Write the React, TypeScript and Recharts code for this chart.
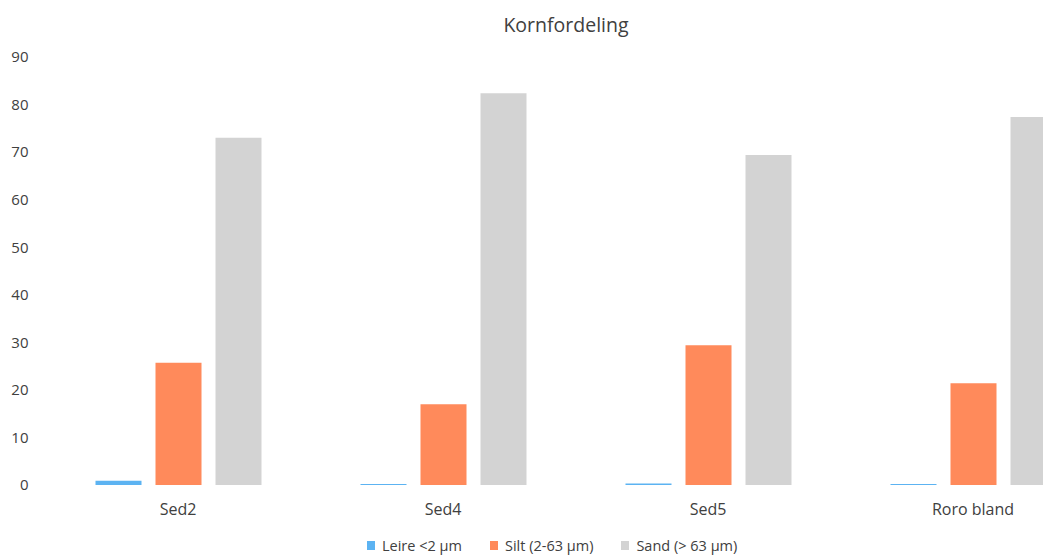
import { BarChart, Bar, XAxis, YAxis } from "recharts";

const categories = ["Sed2", "Sed4", "Sed5", "Roro bland"];
const leire = [0.9, 0.2, 0.3, 0.2];
const silt = [25.7, 17.0, 29.4, 21.4];
const sand = [73.0, 82.4, 69.4, 77.4];
const yTicks = [0, 10, 20, 30, 40, 50, 60, 70, 80, 90];

const seriesKeys = ["leire", "silt", "sand"];
const seriesNames = ["Leire <2 µm", "Silt (2-63 µm)", "Sand (> 63 µm)"];
const seriesColors = ["#5CB3F2", "#FF8A5B", "#D3D3D3"];

const data = categories.map((c, i) => ({
  name: c,
  leire: leire[i],
  silt: silt[i],
  sand: sand[i],
}));

const FONT = "'Open Sans', sans-serif";
const TEXT = "#404040";

export default function App() {
  return (
    <div
      style={{
        position: "absolute",
        left: 0,
        top: 0,
        width: 1043,
        height: 558,
        overflow: "hidden",
        background: "#fff",
      }}
    >
      <div
        style={{
          position: "absolute",
          top: 11,
          left: 366,
          width: 400,
          textAlign: "center",
          fontFamily: FONT,
          fontSize: 19.5,
          color: TEXT,
        }}
      >
        Kornfordeling
      </div>
      <BarChart
        width={1120}
        height={558}
        data={data}
        margin={{ top: 57, right: 14.5, left: 0, bottom: 43 }}
        barSize={46}
        barGap={14}
      >
        <XAxis
          dataKey="name"
          height={30}
          axisLine={false}
          tickLine={false}
          tickSize={0}
          tickMargin={19}
          tick={{ fill: TEXT, fontSize: 16, fontFamily: FONT }}
          interval={0}
        />
        <YAxis
          width={45.5}
          domain={[0, 90]}
          ticks={yTicks}
          axisLine={false}
          tickLine={false}
          tickSize={0}
          tickMargin={17}
          tick={{ fill: TEXT, fontSize: 15, fontFamily: FONT }}
        />
        {seriesKeys.map((k, i) => (
          <Bar key={k} dataKey={k} name={seriesNames[i]} fill={seriesColors[i]} isAnimationActive={false} />
        ))}
      </BarChart>
      <div
        style={{
          position: "absolute",
          left: 367,
          top: 536,
          display: "flex",
          alignItems: "center",
          fontFamily: FONT,
          fontSize: 14.5,
          color: TEXT,
          whiteSpace: "nowrap",
        }}
      >
        {seriesNames.map((n, i) => (
          <div key={n} style={{ display: "flex", alignItems: "center", marginRight: 28 }}>
            <span style={{ display: "inline-block", width: 8, height: 9, background: seriesColors[i], marginRight: 7 }} />
            <span>{n}</span>
          </div>
        ))}
      </div>
    </div>
  );
}
